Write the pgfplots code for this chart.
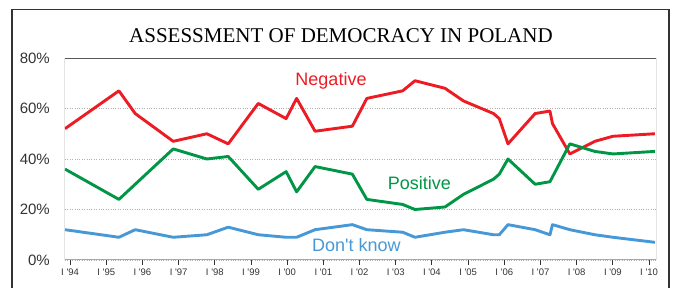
\documentclass[border=0pt]{standalone}
\usepackage{pgfplots}
\pgfplotsset{compat=1.18}
\usepackage{fontspec}
\setmainfont{Liberation Sans}
\newfontfamily\serif{Liberation Serif}
\definecolor{negred}{RGB}{237,28,36}
\definecolor{posgreen}{RGB}{0,150,70}
\definecolor{dkblue}{RGB}{70,152,215}
\begin{document}
\begin{tikzpicture}[x=1pt,y=1pt]
\useasboundingbox (0,0) rectangle (677,288);
\draw[black!80, line width=1.1pt] (12,-5) -- (12,278.5) -- (669,278.5) -- (669,-5);
\node[anchor=base, inner sep=0pt, font=\serif\fontsize{21}{21}\selectfont] at (341,245) {ASSESSMENT OF DEMOCRACY IN POLAND};
\begin{axis}[
  at={(65pt,28pt)}, anchor=south west,
  scale only axis, width=591pt, height=202pt,
  xmin=1993.86, xmax=2010.19, ymin=0, ymax=80,
  axis line style={draw=none},
  xtick={1994,...,2010},
  xticklabels={I \textquotesingle94,I \textquotesingle95,I \textquotesingle96,I \textquotesingle97,I \textquotesingle98,I \textquotesingle99,I \textquotesingle00,I \textquotesingle01,I \textquotesingle02,I \textquotesingle03,I \textquotesingle04,I \textquotesingle05,I \textquotesingle06,I \textquotesingle07,I \textquotesingle08,I \textquotesingle09,I \textquotesingle10},
  xtick pos=bottom, tick align=outside, major tick length=5pt,
  xtick style={black!80, line width=0.9pt},
  xticklabel style={font=\fontsize{9.5}{9.5}\selectfont, color=black!80, inner sep=0pt, anchor=north, yshift=-4pt},
  ytick={0,20,40,60,80},
  yticklabels={0\%,20\%,40\%,60\%,80\%},
  ytick style={draw=none},
  yticklabel style={font=\fontsize{15}{15}\selectfont, color=black!80, inner sep=0pt, anchor=east, xshift=-10pt},
  ymajorgrids, grid style={gray!60, dotted, line width=0.6pt},
  line join=round,
]
\draw[gray!70, line width=1.4pt] (rel axis cs:0,0) -- (rel axis cs:1,0);
\draw[black!65, line width=1.2pt] (rel axis cs:0,1) -- (rel axis cs:1,1);
\draw[black!85, line width=1pt] (rel axis cs:0,0) -- (rel axis cs:0,1);
\draw[black!85, line width=1pt] (rel axis cs:1,0) -- (rel axis cs:1,1);
\addplot[negred, line width=2.9pt, no marks] coordinates {
(1993.86,52) (1995.35,67) (1995.8,58) (1996.85,47) (1997.78,50) (1998.37,46) (1999.2,62) (1999.97,56) (2000.26,64) (2000.77,51) (2001.8,53) (2002.2,64) (2003.19,67) (2003.53,71) (2004.36,68) (2004.87,63) (2005.7,58) (2005.86,56) (2006.1,46) (2006.85,58) (2007.26,59) (2007.33,54) (2007.81,42) (2008.5,47) (2009.0,49) (2010.16,50)
};
\addplot[posgreen, line width=2.9pt, no marks] coordinates {
(1993.86,36) (1995.35,24) (1996.85,44) (1997.78,40) (1998.37,41) (1999.2,28) (1999.97,35) (2000.26,27) (2000.77,37) (2001.8,34) (2002.2,24) (2003.19,22) (2003.53,20) (2004.36,21) (2004.87,26) (2005.7,32) (2005.86,34) (2006.1,40) (2006.85,30) (2007.26,31) (2007.81,46) (2008.5,43) (2009.0,42) (2010.16,43)
};
\addplot[dkblue, line width=2.9pt, no marks] coordinates {
(1993.86,12) (1995.35,9) (1995.8,12) (1996.85,9) (1997.78,10) (1998.37,13) (1999.2,10) (1999.97,9) (2000.26,9) (2000.77,12) (2001.8,14) (2002.2,12) (2003.19,11) (2003.53,9) (2004.36,11) (2004.87,12) (2005.7,10) (2005.86,10) (2006.1,14) (2006.85,12) (2007.26,10) (2007.33,14) (2007.81,12) (2008.5,10) (2009.0,9) (2010.16,7)
};
\node[anchor=base, inner sep=0pt, text=negred, font=\fontsize{18}{18}\selectfont] at (axis cs:2001.21,69.3) {Negative};
\node[anchor=base, inner sep=0pt, text=posgreen, font=\fontsize{18}{18}\selectfont] at (axis cs:2003.65,28) {Positive};
\node[anchor=base, inner sep=0pt, text=dkblue, font=\fontsize{18}{18}\selectfont] at (axis cs:2001.91,3.3) {Don\textquotesingle t know};
\end{axis}
\end{tikzpicture}
\end{document}
